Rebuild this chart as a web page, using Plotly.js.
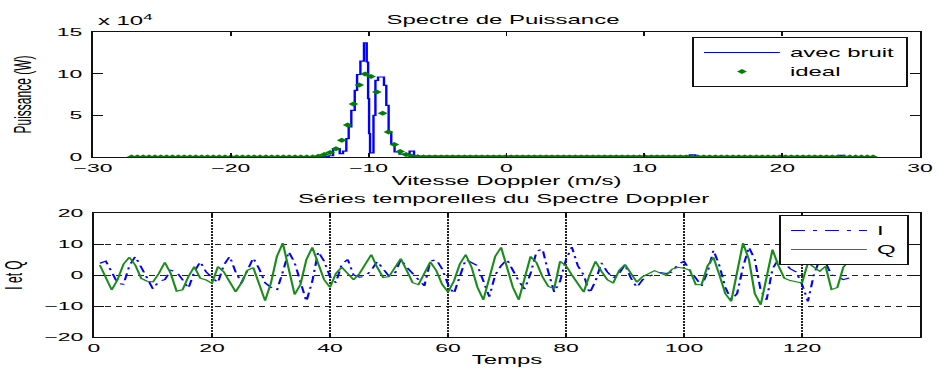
<!DOCTYPE html>
<html>
<head>
<meta charset="utf-8">
<script src="https://cdn.plot.ly/plotly-3.0.1.min.js"></script>
<style>
html,body{margin:0;padding:0;background:#fff;overflow:hidden;width:939px;height:370px;}
/* the reference figure is a horizontally stretched MATLAB export: draw at half width, then stretch */
#chart{width:470px;height:370px;transform:scaleX(1.99787);transform-origin:0 0;}
</style>
</head>
<body>
<div id="chart"></div>
<script>
// ---------- Top panel: power spectrum ----------
// Doppler velocity bins (128 FFT bins), m/s
const binCount = 128;
const binStart = -27.2;
const binStep = 0.4236;
const dopplerBins = Array.from({length: binCount}, (_, k) => +(binStart + k * binStep).toFixed(4));

// "ideal" spectrum (W), one value per bin
const idealPower = [
  0,0,0,0,0,0,0,0,0,0,0,0,0,0,0,0,
  0,0,0,0,0,0,0,0,0,0,0,0,0,0,0,0,
  1000,3000,5500,10000,20000,38500,63500,86500,99500,96500,78000,52500,30000,15000,6500,3000,
  1000,400,0,0,0,0,0,0,0,0,0,0,0,0,0,0,
  0,0,0,0,0,0,0,0,0,0,0,0,0,0,0,0,
  0,0,0,0,0,0,0,0,0,0,0,0,0,0,0,0,
  0,0,0,0,0,0,0,0,0,0,0,0,0,0,0,0,
  0,0,0,0,0,0,0,0,0,0,0,0,0,0,0,0
];

// "avec bruit" noisy spectrum, drawn as stairs (velocity m/s, power W)
const noisyVelocity = [-27.2, -13.5, -12.9, -12.58, -12.10, -11.86, -11.62, -11.45, -11.26, -11.01, -10.84, -10.60, -10.34, -10.14, -10.04, -9.97, -9.90, -9.65, -9.51, -9.32, -8.89, -8.72, -8.55, -8.36, -8.12, -7.76, -7.03, -6.71, 13.3, 13.7, 24.1, 24.5, 26.6];
const noisyPower    = [200, 600, 1500, 10000, 4000, 7000, 22000, 36000, 56000, 80000, 99000, 115000, 137000, 114000, 70000, 28000, 5000, 50000, 92000, 96000, 86000, 62000, 30000, 16000, 6000, 3500, 7000, 1000, 2500, 800, 2000, 600, 600];

// ---------- Bottom panel: I/Q time series ----------
const sampleCount = 128;
const timeSamples = Array.from({length: sampleCount}, (_, i) => i + 1);

const seriesI = [
  3.8, 4.5, 1.0, -2.7, -3.0, 3.0, 6.0, 2.5, -1.5, -4.5, -2.0, -1.5, 1.5, 1.0, -1.5, -4.3,
  1.0, 4.3, 1.0, -1.0, -2.5, 3.2, 6.0, 1.0, -2.5, 1.5, 5.5, 2.0, -2.5, -4.0, -5.0, 1.0,
  7.5, 4.0, -3.0, -8.5, -2.0, 7.5, 4.5, -0.5, -2.5, 3.5, 5.0, 0.0, -0.7, -0.4, 1.5, 4.4,
  2.0, -0.4, 0.5, 5.0, 2.5, 0.5, -1.5, -3.5, 4.4, 5.0, 2.0, -3.0, -6.0, -1.0, 5.0, 4.0,
  3.0, -2.0, -7.0, 0.0, 3.0, 5.0, 1.0, -2.0, -4.5, 0.5, 7.5, 8.5, 1.0, -5.5, -2.0, 5.0,
  9.0, 3.0, 0.0, -5.8, -2.0, 3.9, 1.0, -1.0, 0.5, 3.3, -1.0, -4.0, -1.5, -0.4, 0.2, 0.8,
  0.5, 1.0, 3.5, 4.4, 1.5, -1.0, -3.5, 1.0, 8.0, 3.0, -4.0, -8.0, -6.0, 2.5, 9.0, 5.0,
  -5.0, -8.0, 2.0, 5.0, 4.0, 2.0, 1.0, -3.0, -8.5, 0.0, 5.0, 4.0, 0.0, -0.5, -1.5, -1.0
];
const seriesQ = [
  3.2, -1.0, -4.8, -1.5, 3.5, 5.7, 3.2, -1.1, -2.0, -2.2, 0.5, 4.1, 0.5, -5.2, -4.8, -0.5,
  2.7, -1.0, -1.6, -2.7, 2.7, 1.0, -2.5, -5.4, -2.5, 1.5, 2.4, -3.0, -8.3, -2.5, 6.0, 10.3,
  2.5, -6.3, -3.0, 5.0, 8.9, 3.5, -1.5, -4.0, 0.5, 2.5, 0.5, -1.5, 0.5, 4.0, 6.6, 2.5,
  -0.8, -0.5, 2.5, 5.3, 1.5, -2.5, -3.1, 1.0, 4.2, 1.5, -3.0, -5.5, -2.0, 3.5, 6.6, 2.5,
  -4.0, -8.0, -1.0, 6.0, 8.9, 3.0, -4.0, -8.0, -1.5, 6.0, 4.0, -0.5, -3.7, -4.4, 4.4, 3.0,
  0.0, -3.0, -5.5, 0.0, 4.4, 1.2, -1.5, -2.6, 1.5, 3.4, 0.5, -2.3, -0.5, 0.5, 1.4, 0.6,
  -0.1, 1.9, 2.5, 2.2, 1.5, -3.1, -3.0, 3.0, 5.7, 0.0, -6.0, -8.5, 2.0, 10.3, 5.0, -6.0,
  -9.6, -1.0, 8.2, 3.0, -1.0, -1.8, -2.2, -2.6, 3.9, 2.5, 1.2, 2.8, -4.7, -4.0, 2.5, 4.6
];

const powerTickVals = [0, 50000, 100000, 150000];
const powerTickText = ['0', '5', '10', '15'];

const FONT = 'Liberation Sans, Arial, sans-serif';
const FS = 11.5;   // tick labels
const FT = 12;     // titles, axis titles, legends
const W = 470, H = 370;
const baseAxis = {
  showline: true, linecolor: '#111', linewidth: 1, mirror: 'ticks',
  ticks: 'inside', ticklen: 4, tickcolor: '#111', tickwidth: 1,
  tickfont: {family: FONT, size: FS, color: '#000'},
  zeroline: false, showgrid: false, fixedrange: true
};

const traces = [
  {x: noisyVelocity, y: noisyPower, type: 'scatter', mode: 'lines', name: 'avec bruit',
   line: {color: '#0000ff', width: 1.2, shape: 'hv'}, xaxis: 'x', yaxis: 'y', legend: 'legend'},
  {x: dopplerBins, y: idealPower, type: 'scatter', mode: 'markers', name: 'ideal',
   marker: {symbol: 'diamond', size: 3.8, color: '#008000'}, xaxis: 'x', yaxis: 'y', legend: 'legend'},
  {x: timeSamples, y: seriesI, type: 'scatter', mode: 'lines', name: 'I',
   line: {color: '#0000ff', width: 1.1, dash: '7px,4px,2px,4px'}, xaxis: 'x2', yaxis: 'y2', legend: 'legend2'},
  {x: timeSamples, y: seriesQ, type: 'scatter', mode: 'lines', name: 'Q',
   line: {color: '#1a8c1a', width: 1.1}, xaxis: 'x2', yaxis: 'y2', legend: 'legend2'}
];

const layout = {
  width: W, height: H,
  margin: {l: 0, r: 0, t: 0, b: 0},
  paper_bgcolor: '#fff', plot_bgcolor: '#fff',
  font: {family: FONT, size: FS, color: '#000'},
  title: {text: 'Spectre de Puissance', x: 503/939, xanchor: 'center', y: 1 - 20/370, yanchor: 'middle',
          font: {family: FONT, size: FT, color: '#000'}},
  xaxis: Object.assign({}, baseAxis, {domain: [93/939, 920/939], range: [-30, 30], dtick: 10, anchor: 'y',
          title: {text: 'Vitesse Doppler (m/s)', standoff: 3, font: {family: FONT, size: FT}}}),
  yaxis: Object.assign({}, baseAxis, {domain: [1 - 157/370, 1 - 32/370], range: [0, 150000],
          tickvals: powerTickVals, ticktext: powerTickText, anchor: 'x', ticklen: 5, ticklabelstandoff: 2,
          title: {text: 'Puissance (W)', standoff: 9, font: {family: FONT, size: FT}}}),
  xaxis2: Object.assign({}, baseAxis, {domain: [94/939, 920/939], range: [0, 140], dtick: 20, anchor: 'y2',
          showgrid: true, gridcolor: '#222', griddash: '1.5px,1.5px', gridwidth: 1,
          title: {text: 'Temps', standoff: 2, font: {family: FONT, size: FT}}}),
  yaxis2: Object.assign({}, baseAxis, {domain: [1 - 337/370, 1 - 213/370], range: [-20, 20], dtick: 10, anchor: 'x2',
          ticklen: 5, ticklabelstandoff: 2,
          showgrid: true, gridcolor: '#222', griddash: '3px,2.5px', gridwidth: 1,
          title: {text: 'I et Q', standoff: 10, font: {family: FONT, size: FT}}}),
  legend: {x: 692/939, xanchor: 'left', y: 1 - 37/370, yanchor: 'top',
           bgcolor: '#fff', bordercolor: '#111', borderwidth: 1,
           font: {family: FONT, size: FT, color: '#000'}, itemwidth: 38, tracegroupgap: 0},
  legend2: {x: 779/939, xanchor: 'left', y: 1 - 215/370, yanchor: 'top',
           bgcolor: '#fff', bordercolor: '#111', borderwidth: 1,
           font: {family: FONT, size: FT, color: '#000'}, itemwidth: 38, tracegroupgap: 0},
  annotations: [
    {text: 'Séries temporelles du Spectre Doppler', xref: 'paper', yref: 'paper',
     x: 503/939, y: 1 - 199/370, xanchor: 'center', yanchor: 'middle', showarrow: false,
     font: {family: FONT, size: FT, color: '#000'}},
    {text: 'x 10<sup>4</sup>', xref: 'paper', yref: 'paper',
     x: 93/939, y: 1 - 20/370, xanchor: 'left', yanchor: 'middle', showarrow: false,
     font: {family: FONT, size: FT, color: '#000'}}
  ],
  showlegend: true
};

Plotly.newPlot('chart', traces, layout, {staticPlot: true, displayModeBar: false});
</script>
</body>
</html>
